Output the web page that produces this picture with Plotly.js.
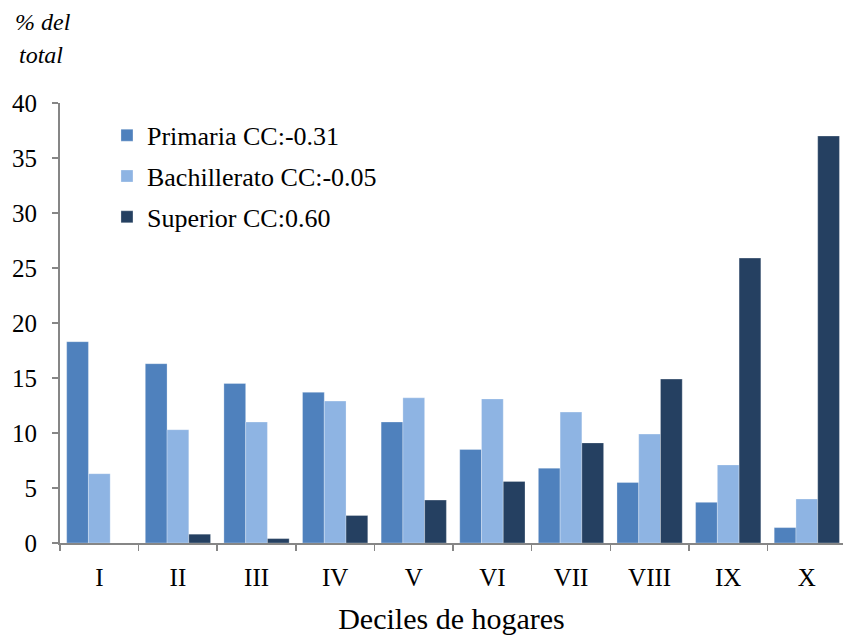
<!DOCTYPE html>
<html>
<head>
<meta charset="utf-8">
<script src="https://cdn.plot.ly/plotly-3.0.1.min.js"></script>
<style>html,body{margin:0;padding:0;background:#fff;}#chart{width:843px;height:637px;}</style>
</head>
<body>
<div id="chart"></div>
<script>
const categories = ["I","II","III","IV","V","VI","VII","VIII","IX","X"];
const primaria = [18.3, 16.3, 14.5, 13.7, 11.0, 8.5, 6.8, 5.5, 3.7, 1.4];
const bachillerato = [6.3, 10.3, 11.0, 12.9, 13.2, 13.1, 11.9, 9.9, 7.1, 4.0];
const superior = [0, 0.8, 0.4, 2.5, 3.9, 5.6, 9.1, 14.9, 25.9, 37.0];
const seriesNames = ["Primaria CC:-0.31", "Bachillerato CC:-0.05", "Superior CC:0.60"];
const yTicks = [0,5,10,15,20,25,30,35,40];

const colors = ["#4F81BD", "#8EB4E3", "#254061"];
const font = "'Liberation Serif', 'Times New Roman', serif";
const vals = [primaria, bachillerato, superior];

const data = vals.map((v, i) => ({
  type: "bar",
  x: categories,
  y: v,
  name: seriesNames[i],
  legendgroup: "g" + i,
  marker: {color: colors[i], line: {color: "rgba(255,255,255,0.35)", width: 0.8}},
  hoverinfo: "skip"
}));

const layout = {
  width: 843, height: 637,
  margin: {l: 60, r: 0, t: 103, b: 94},
  paper_bgcolor: "#fff", plot_bgcolor: "#fff",
  barmode: "group", bargap: 0.17, bargroupgap: 0,
  font: {family: font, size: 25, color: "#000"},
  showlegend: true,
  legend: {
    x: 0.060, y: 0.980, xanchor: "left", yanchor: "top",
    traceorder: "grouped", tracegroupgap: 4,
    font: {family: font, size: 26, color: "#000"},
    bgcolor: "rgba(0,0,0,0)", itemwidth: 30
  },
  xaxis: {
    type: "category", range: [-0.5, 9.46],
    tickson: "boundaries", ticks: "outside", ticklen: 6, tickcolor: "#868686", tickwidth: 1.5,
    showline: true, linecolor: "#868686", linewidth: 2,
    showgrid: false, zeroline: false,
    tickfont: {family: font, size: 25, color: "#000"},
    ticklabelstandoff: 11,
    title: {text: "Deciles de hogares", font: {family: font, size: 30, color: "#000"}, standoff: 18}
  },
  yaxis: {
    range: [0, 40], tickvals: yTicks, ticktext: yTicks.map(String),
    ticks: "outside", ticklen: 6, tickcolor: "#868686", tickwidth: 1.5,
    showline: true, linecolor: "#868686", linewidth: 2,
    showgrid: false, zeroline: false,
    tickfont: {family: font, size: 25, color: "#000"},
    ticklabelstandoff: 10
  },
  annotations: [
    {
      xref: "paper", yref: "paper", x: -0.060, y: 1.0, yshift: 81,
      xanchor: "left", yanchor: "middle", showarrow: false,
      text: "<i>% del</i>",
      font: {family: font, size: 24, color: "#000"}
    },
    {
      xref: "paper", yref: "paper", x: -0.055, y: 1.0, yshift: 48,
      xanchor: "left", yanchor: "middle", showarrow: false,
      text: "<i>total</i>",
      font: {family: font, size: 24, color: "#000"}
    }
  ]
};

Plotly.newPlot("chart", data, layout, {displayModeBar: false, staticPlot: true});
</script>
</body>
</html>
